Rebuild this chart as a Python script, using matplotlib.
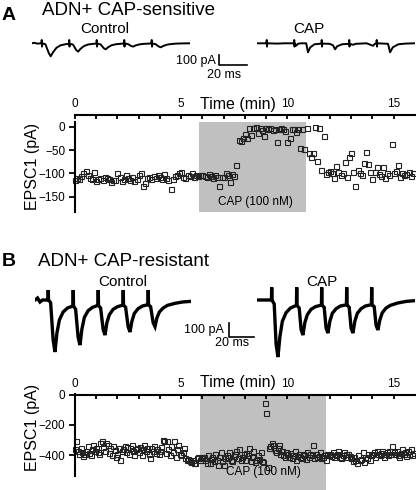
import matplotlib
matplotlib.use("Agg")
import matplotlib.pyplot as plt
import numpy as np

plt.rcParams['font.family'] = ['Liberation Sans', 'DejaVu Sans']

# ---------------------------------------------------------------- data
# sample traces (ms, pA), vertices
a_ctl_t = [0, 2, 4, 7.1, 7.3, 7.5, 7.7, 10, 12.5, 13.8, 15.5, 18, 21, 25, 27.1,
           27.3, 27.5, 27.7, 30, 32.5, 33.8, 35.5, 38, 41, 45, 47.1,
           47.3, 47.5, 47.7, 50, 52.5, 53.8, 55.5, 58, 61, 65, 67.1,
           67.3, 67.5, 67.7, 70, 72.5, 73.8, 75.5, 78, 81, 85, 87.1,
           87.3, 87.5, 87.7, 90, 92.5, 94, 95.5, 98, 101, 105, 110, 115]
a_ctl_i = [0, 5, -3, 0, 33, -33, 0, -10, -100, -130, -90, -45, -20, -8, -5,
           33, -33, -5, -12, -70, -83, -55, -28, -12, -5, -3,
           33, -33, -3, -10, -50, -60, -40, -20, -10, -4, -2,
           33, -33, -2, -8, -28, -33, -22, -12, -6, -3, -2,
           33, -33, -2, -8, -33, -40, -28, -15, -8, -3, -1, 0]

a_cap_t = [0, 7.1, 7.3, 7.5, 7.7, 15, 20, 27.1, 27.3, 27.5, 27.7, 28.6, 30, 32, 36,
           37.3, 39, 42, 47.1, 47.3, 47.5, 47.7, 53, 55.5, 57, 58.5, 62, 67.1,
           67.3, 67.5, 67.7, 70, 72, 80, 84.6, 86, 87.1, 87.3, 87.5, 87.7,
           95.5, 97, 99, 103, 108, 115]
a_cap_i = [0, 0, 33, -33, 0, -3, 0, 0, 33, -33, 0, -25, -5, 0, 0,
           -90, -40, -10, -3, 33, -33, -3, -5, -20, -60, -30, -10, -5,
           33, -33, -5, -15, -5, 0, -25, -5, 0, 33, -33, 0,
           -5, -90, -40, -10, -3, 0]

b_ctl_t = [0, 2, 4, 6, 10.4, 10.6, 10.8, 12.5, 14.5, 16, 17.5, 19.5, 22.5, 26, 30.4,
           30.6, 30.8, 32.5, 34.5, 36, 37.5, 39.5, 42.5, 46, 50.4,
           50.6, 50.8, 52.5, 54.5, 56, 57.5, 59.5, 62.5, 66, 70.4,
           70.6, 70.8, 72.5, 74.5, 76, 77.5, 79.5, 82.5, 86, 90.4,
           90.6, 90.8, 92.5, 94.5, 96, 97.5, 99.5, 102.5, 106, 112, 118, 125]
b_ctl_i = [0, 15, -15, 0, 0, 75, 0, -20, -300, -390, -250, -150, -90, -60, -45,
           75, -45, -70, -280, -338, -220, -130, -80, -55, -40,
           75, -40, -60, -220, -263, -170, -110, -70, -50, -38,
           75, -38, -55, -200, -240, -160, -100, -65, -45, -35,
           75, -35, -50, -170, -200, -135, -90, -60, -40, -25, -15, -10]

b_cap_t = [0, 11.8, 12, 12.2, 14, 15.5, 17, 18.5, 20.5, 23.5, 27, 31.8,
           32, 32.2, 34, 35.5, 37, 38.5, 40.5, 43.5, 47, 51.8,
           52, 52.2, 54, 55.5, 57, 58.5, 60.5, 63.5, 67, 71.8,
           72, 72.2, 74, 75.5, 77, 78.5, 80.5, 83.5, 87, 91.8,
           92, 92.2, 94, 95.5, 97, 98.5, 100.5, 103.5, 107, 113, 120, 126.6]
b_cap_i = [0, 0, 95, 0, -30, -330, -428, -280, -160, -95, -60, -40,
           95, -40, -60, -220, -263, -170, -110, -70, -50, -38,
           95, -38, -55, -210, -248, -160, -100, -65, -45, -36,
           95, -36, -55, -210, -248, -160, -100, -65, -45, -35,
           95, -35, -50, -190, -225, -150, -95, -60, -40, -22, -10, -5]

# EPSC1 time course, one value every 0.1 min (panel A)
epsc_a = [-115, -110, -112, -106, -100, -94, -104, -110, -112, -98,
          -116, -112, -110, -115, -108, -110, -112, -118, -115, -114,
          -100, -108, -116, -112, -104, -110, -114, -108, -116, -112,
          -104, -100, -128, -120, -110, -108, -112, -106, -110, -104,
          -108, -112, -102, -110, -114, -133, -112, -106, -104, -100,
          -96, -108, -110, -104, -106, -100, -108, -104, -106, -104,
          -104, -106, -108, -102, -106, -110, -104, -108, -128, -108,
          -107, -100, -104, -118, -102, -106, -82, -28, -30, -25,
          -15, -25, -3, -18, -2, 0, -14, -3, -8, -19,
          -3, -6, -2, -8, -5, -32, -4, -2, -6, -10,
          -32, -25, -4, -6, -12, -4, -45, -4, -48, -3,
          -57, -64, -57, 0, -73, -3, -93, -21, -102, -98,
          -95, -100, -109, -84, -98, -104, -100, -75, -107, -64,
          -57, -97, -127, -93, -100, -103, -78, -55, -80, -98,
          -111, -97, -86, -101, -105, -86, -110, -100, -103, -38,
          -100, -95, -81, -108, -100, -104, -102, -98, -106, -100]
dt_a = 0.1

# EPSC1 time course, 15 values per minute (panel B)
epsc_b = [-360, -310, -370, -395, -350, -380, -405, -395, -370, -340, -385, -400, -360, -330, -375,
          -350, -380, -395, -320, -310, -345, -370, -320, -330, -385, -355, -400, -340, -365, -410,
          -390, -350, -430, -370, -360, -340, -380, -345, -395, -355, -330, -375, -400, -360, -350,
          -380, -345, -400, -360, -335, -370, -350, -390, -420, -355, -370, -340, -385, -360, -395,
          -370, -345, -300, -310, -385, -305, -360, -400, -340, -380, -305, -410, -360, -330, -395,
          -400, -380, -350, -420, -430, -425, -440, -445, -430, -450, -455, -420, -415, -435, -410,
          -420, -410, -435, -450, -400, -455, -425, -415, -440, -390, -430, -465, -410, -380, -440,
          -465, -420, -400, -410, -380, -430, -440, -405, -395, -375, -420, -360, -430, -410, -395,
          -430, -385, -400, -355, -440, -410, -370, -445, -430, -400, -425, -380, -440, -445, -56,
          -118, -482, -350, -340, -320, -330, -365, -380, -350, -330, -390, -370, -400, -410, -380,
          -395, -410, -385, -420, -400, -375, -430, -405, -390, -415, -420, -395, -400, -425, -380,
          -410, -390, -400, -333, -420, -395, -415, -405, -380, -420, -410, -400, -430, -395, -400,
          -390, -405, -380, -410, -400, -395, -375, -410, -420, -400, -380, -390, -415, -395, -405,
          -420, -440, -410, -430, -450, -400, -435, -425, -380, -445, -410, -420, -395, -430, -400,
          -390, -380, -410, -370, -395, -400, -385, -375, -410, -390, -380, -400, -370, -395, -340,
          -380, -395, -370, -400, -410, -385, -360, -395, -380, -405, -375, -390, -360, -400, -385]
dt_b = 1 / 15

cap_a = (5.85, 10.85)
cap_b = (5.9, 11.83)

# ---------------------------------------------------------------- layout
W, H = 416, 490
fig = plt.figure(figsize=(W / 100, H / 100), dpi=100)


def px_axes(left, top, width, height):
    return fig.add_axes([left / W, 1 - (top + height) / H, width / W, height / H])


def px_text(x, y, s, **kw):
    fig.text(x / W, 1 - y / H, s, **kw)


def trace_axes(left, base_y, t_end, ppm, ppa, ylo, yhi):
    ax = px_axes(left, base_y - yhi * ppa, t_end * ppm, (yhi - ylo) * ppa)
    ax.set_xlim(0, t_end)
    ax.set_ylim(ylo, yhi)
    ax.axis('off')
    return ax


def time_course(ax, t, v, cap, ylo, yhi, yticks, cap_y, cap_x, yspine_lo, top_off):
    ax.fill_between(cap, ylo, yhi, color='#c0c0c0', lw=0, zorder=0)
    ax.plot(t, v, 's', ms=3.6, mfc='none', mec='#222222', mew=0.8, clip_on=False)
    ax.set_xlim(0, 16.05)
    ax.set_ylim(ylo, yhi)
    ax.xaxis.tick_top()
    ax.set_xticks([0, 5, 10, 15])
    ax.set_xticks(range(0, 16), minor=True)
    ax.set_yticks(yticks)
    ax.tick_params(axis='x', which='both', direction='in', length=3, width=1.3,
                   pad=3.5, labelsize=8.5)
    ax.tick_params(axis='y', direction='out', length=4, width=1.3, pad=3, labelsize=8.5)
    for s in ['right', 'bottom']:
        ax.spines[s].set_visible(False)
    for s in ['top', 'left']:
        ax.spines[s].set_linewidth(1.5)
    ax.spines['top'].set_position(('outward', top_off))
    ax.spines['left'].set_bounds(yspine_lo, yhi)
    ax.set_facecolor('none')
    ax.text(cap_x, cap_y, 'CAP (100 nM)', ha='center', va='center', fontsize=8.5)


# ---------------------------------------------------------------- panel A
px_text(2, 19.5, 'A', fontsize=14, fontweight='bold')
px_text(42, 15, 'ADN+ CAP-sensitive', fontsize=13.5)
px_text(105, 33, 'Control', fontsize=11, ha='center')
px_text(309, 33, 'CAP', fontsize=11, ha='center')

ax = trace_axes(31.7, 43.3, 115, 1.375, 0.1, -250, 70)
ax.plot(a_ctl_t, a_ctl_i, color='k', lw=1.4)
ax.plot([136.4, 136.4, 156.4], [-117, -217, -217], color='k', lw=1.2, clip_on=False)
ax = trace_axes(256.7, 43.3, 115, 1.375, 0.1, -250, 70)
ax.plot(a_cap_t, a_cap_i, color='k', lw=1.4)
px_text(216, 64, '100 pA', fontsize=9, ha='right')
px_text(224, 78, '20 ms', fontsize=9, ha='center')

ax = px_axes(75, 122, 341, 89.7)
time_course(ax, np.arange(len(epsc_a)) * dt_a, epsc_a, cap_a, -182, 10,
            [0, -50, -100, -150], -161, 8.5, -182, 5)
px_text(238, 108.5, 'Time (min)', fontsize=11.5, ha='center')
px_text(32, 166, 'EPSC1 (pA)', fontsize=11.5, rotation=90, ha='center', va='center')

# ---------------------------------------------------------------- panel B
px_text(1.5, 266, 'B', fontsize=14, fontweight='bold')
px_text(38, 266, 'ADN+ CAP-resistant', fontsize=13.5)
px_text(123, 286.5, 'Control', fontsize=11, ha='center')
px_text(322, 286.5, 'CAP', fontsize=11, ha='center')

ax = trace_axes(35, 300, 125, 1.25, 0.1333, -480, 100)
ax.plot(b_ctl_t, b_ctl_i, color='k', lw=2.4, solid_joinstyle='miter')
ax.plot([155.2, 155.2, 175.2], [-175, -275, -275], color='k', lw=1.2, clip_on=False)
ax = trace_axes(256.7, 300, 126.6, 1.25, 0.1333, -480, 100)
ax.plot(b_cap_t, b_cap_i, color='k', lw=2.4, solid_joinstyle='miter')
px_text(224, 333, '100 pA', fontsize=9, ha='right')
px_text(232, 346, '20 ms', fontsize=9, ha='center')

ax = px_axes(75, 394.5, 341, 95.5)
time_course(ax, np.arange(len(epsc_b)) * dt_b, epsc_b, cap_b, -633, 3,
            [0, -200, -400], -515, 8.85, -543, 0)
px_text(238, 387, 'Time (min)', fontsize=11.5, ha='center')
px_text(32, 427, 'EPSC1 (pA)', fontsize=11.5, rotation=90, ha='center', va='center')

fig.savefig('out.png', dpi=100)
